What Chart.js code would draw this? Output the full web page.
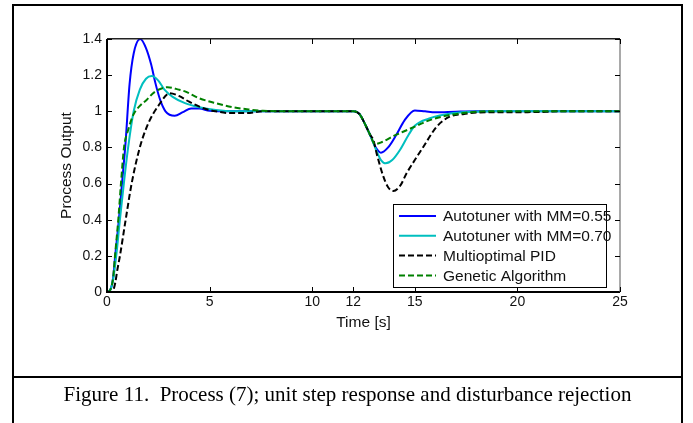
<!DOCTYPE html>
<html>
<head>
<meta charset="utf-8">
<title>Process (7) step response</title>
<script src="https://cdn.jsdelivr.net/npm/chart.js@4.4.1/dist/chart.umd.min.js"></script>
<style>
  body { margin: 0; background: #fff; }
  #wrap { position: relative; width: 693px; height: 423px; overflow: hidden; }
  #plot { position: absolute; left: 0; top: 0; }
  #frame { position: absolute; left: 12px; top: 4px; width: 671px; height: 440px; border: 2px solid #000; box-sizing: border-box; }
  #sep { position: absolute; left: 12px; top: 376px; width: 671px; height: 2px; background: #000; }
  #caption { position: absolute; left: 14px; width: 667px; top: 384px; font: 21px/21px "Liberation Serif", "Times New Roman", serif; text-align: center; white-space: pre; color: #000; }
</style>
</head>
<body>
<div id="wrap">
  <canvas id="plot" width="693" height="423"></canvas>
  <div id="frame"></div>
  <div id="sep"></div>
  <div id="caption">Figure 11.  Process (7); unit step response and disturbance rejection</div>
</div>
<script>
// axis ticks
const xTicks = [0, 5, 10, 12, 15, 20, 25];
const yTicks = [0, 0.2, 0.4, 0.6, 0.8, 1, 1.2, 1.4];

const seriesNames = ['Autotuner with MM=0.55', 'Autotuner with MM=0.70', 'Multioptimal PID', 'Genetic Algorithm'];

// Autotuner, MM = 0.55
const tAuto055 = [0, 0.15, 0.3, 0.4, 0.58, 0.73, 0.9, 1.1, 1.3, 1.62, 1.9, 2.15, 2.35, 2.6, 2.85, 3.3, 3.7, 4.1, 4.5, 5, 6, 12,
  12.3, 12.57, 12.82, 13.1, 13.35, 13.7, 14.1, 14.5, 15, 15.5, 16, 17, 18, 25];
const yAuto055 = [0, 0.01, 0.08, 0.2, 0.4, 0.6, 0.82, 1.15, 1.32, 1.4, 1.35, 1.26, 1.16, 1.06, 1.0, 0.975, 0.995, 1.015, 1.015, 1.003, 1, 1,
  0.985, 0.93, 0.87, 0.8, 0.771, 0.8, 0.87, 0.95, 1.005, 1.0, 0.995, 0.998, 1, 1];

// Autotuner, MM = 0.70
const tAuto070 = [0, 0.15, 0.3, 0.45, 0.63, 0.82, 1.03, 1.3, 1.6, 1.9, 2.18, 2.5, 2.8, 3.2, 3.8, 4.5, 5.3, 6.2, 12,
  12.3, 12.57, 12.82, 13.1, 13.35, 13.58, 13.9, 14.3, 14.7, 15, 15.7, 16.9, 18, 19, 25];
const yAuto070 = [0, 0.01, 0.07, 0.2, 0.4, 0.6, 0.8, 1.0, 1.12, 1.18, 1.195, 1.17, 1.12, 1.08, 1.045, 1.022, 1.007, 1, 1,
  0.985, 0.93, 0.87, 0.79, 0.73, 0.712, 0.73, 0.79, 0.87, 0.92, 0.96, 0.99, 0.998, 1, 1];

// Multioptimal PID
const tMulti = [0, 0.25, 0.4, 0.5, 0.63, 0.91, 1.2, 1.6, 2.0, 2.5, 3.07, 3.5, 4.0, 4.7, 5.3, 6.0, 6.8, 7.6, 12,
  12.3, 12.57, 12.82, 12.98, 13.14, 13.47, 13.7, 13.95, 14.3, 14.6, 15.0, 15.42, 16.07, 16.7, 17.4, 18, 20, 21.4, 22, 25];
const yMulti = [0, 0, 0.05, 0.12, 0.2, 0.4, 0.6, 0.8, 0.93, 1.03, 1.1, 1.085, 1.053, 1.017, 1.0, 0.99, 0.99, 1, 1,
  0.985, 0.93, 0.87, 0.841, 0.767, 0.638, 0.58, 0.559, 0.59, 0.657, 0.73, 0.804, 0.915, 0.97, 0.985, 0.993, 0.995, 0.997, 1, 1];

// Genetic Algorithm
const tGA = [0, 0.15, 0.3, 0.39, 0.55, 0.68, 0.83, 1.04, 1.28, 1.6, 1.93, 2.3, 2.95, 3.5, 3.8, 4.5, 5.3, 6.16, 6.9, 7.6, 8.5, 12,
  12.3, 12.57, 12.82, 13.06, 13.4, 14.0, 14.6, 15.0, 15.7, 16.5, 17.5, 18.5, 25];
const yGA = [0, 0.01, 0.08, 0.2, 0.4, 0.6, 0.8, 0.9, 0.98, 1.03, 1.063, 1.105, 1.133, 1.12, 1.11, 1.072, 1.045, 1.022, 1.01, 1.003, 1, 1,
  0.985, 0.93, 0.87, 0.819, 0.83, 0.865, 0.895, 0.915, 0.95, 0.975, 0.992, 1, 1];

function toPoints(ts, ys) {
  return ts.map((t, i) => ({ x: t, y: ys[i] }));
}

const FONT = '"Liberation Sans", Arial, Helvetica, sans-serif';
Chart.defaults.font.family = FONT;
Chart.defaults.color = '#111';

// legend box, axes box and inward ticks like a matlab figure
const matlabAxes = {
  id: 'matlabAxes',
  afterDatasetsDraw(chart) {
    const { ctx, chartArea: a, scales: { x, y } } = chart;
    ctx.save();

    const bx = a.right - 227, by = a.bottom - 88, bw = 213, bh = 83;
    ctx.fillStyle = '#fff';
    ctx.fillRect(bx, by, bw, bh);
    ctx.strokeStyle = '#000';
    ctx.lineWidth = 1;
    ctx.strokeRect(bx + 0.5, by + 0.5, bw, bh);
    ctx.font = '15.5px ' + FONT;
    ctx.textBaseline = 'middle';
    chart.data.datasets.forEach((ds, i) => {
      const ly = by + 12 + i * 19.8;
      ctx.beginPath();
      ctx.setLineDash(ds.borderDash || []);
      ctx.strokeStyle = ds.borderColor;
      ctx.lineWidth = 2;
      ctx.moveTo(bx + 6, ly);
      ctx.lineTo(bx + 43, ly);
      ctx.stroke();
      ctx.setLineDash([]);
      ctx.fillStyle = '#111';
      ctx.fillText(ds.label, bx + 50, ly + 1);
    });

    ctx.fillStyle = '#000';
    ctx.fillRect(a.left - 1, a.top, 2, a.bottom - a.top + 1);
    ctx.fillRect(a.left - 1, a.bottom - 1, a.right - a.left + 1, 2);
    ctx.fillStyle = '#222';
    ctx.fillRect(a.left, a.top - 1, a.right - a.left, 1.5);
    ctx.fillStyle = '#555';
    ctx.fillRect(a.right - 0.5, a.top, 1, a.bottom - a.top);

    ctx.strokeStyle = '#000';
    ctx.lineWidth = 1;
    ctx.beginPath();
    xTicks.forEach(v => {
      const px = Math.round(x.getPixelForValue(v)) + 0.5;
      ctx.moveTo(px, a.bottom); ctx.lineTo(px, a.bottom - 5);
      ctx.moveTo(px, a.top); ctx.lineTo(px, a.top + 5);
    });
    yTicks.forEach(v => {
      const py = Math.round(y.getPixelForValue(v)) + 0.5;
      ctx.moveTo(a.left, py); ctx.lineTo(a.left + 5, py);
      ctx.moveTo(a.right, py); ctx.lineTo(a.right - 5, py);
    });
    ctx.stroke();
    ctx.restore();
  }
};

const lineStyle = { pointRadius: 0, borderWidth: 2, fill: false, cubicInterpolationMode: 'monotone', borderCapStyle: 'butt' };

new Chart(document.getElementById('plot'), {
  type: 'line',
  data: {
    datasets: [
      { ...lineStyle, label: seriesNames[0], data: toPoints(tAuto055, yAuto055), borderColor: '#0000ff', order: 4 },
      { ...lineStyle, label: seriesNames[1], data: toPoints(tAuto070, yAuto070), borderColor: '#00bfbf', order: 3 },
      { ...lineStyle, label: seriesNames[2], data: toPoints(tMulti, yMulti), borderColor: '#000000', borderDash: [6, 3], order: 2 },
      { ...lineStyle, label: seriesNames[3], data: toPoints(tGA, yGA), borderColor: '#008000', borderDash: [6, 3], order: 1 }
    ]
  },
  options: {
    responsive: false,
    animation: false,
    devicePixelRatio: 1,
    layout: { autoPadding: false, padding: { left: 0, top: 39, right: 73, bottom: 0 } },
    plugins: { legend: { display: false }, tooltip: { enabled: false } },
    scales: {
      x: {
        type: 'linear', min: 0, max: 25,
        afterBuildTicks: s => { s.ticks = xTicks.map(v => ({ value: v })); },
        afterFit: s => { s.height = 131; },
        grid: { display: false, drawTicks: false },
        border: { display: false },
        ticks: { font: { size: 14 }, padding: 2, maxRotation: 0, autoSkip: false, callback: v => String(v) },
        title: { display: true, text: 'Time [s]', font: { size: 15.5 }, padding: { top: 0, bottom: 91 } }
      },
      y: {
        type: 'linear', min: 0, max: 1.4,
        afterBuildTicks: s => { s.ticks = yTicks.map(v => ({ value: v })); },
        afterFit: s => { s.width = 107; },
        grid: { display: false, drawTicks: false },
        border: { display: false },
        ticks: { font: { size: 14 }, padding: 5, autoSkip: false, callback: v => String(Math.round(v * 10) / 10) },
        title: { display: true, text: 'Process Output', font: { size: 15.5 }, padding: { top: 57, bottom: 0 } }
      }
    }
  },
  plugins: [matlabAxes]
});
</script>
</body>
</html>
